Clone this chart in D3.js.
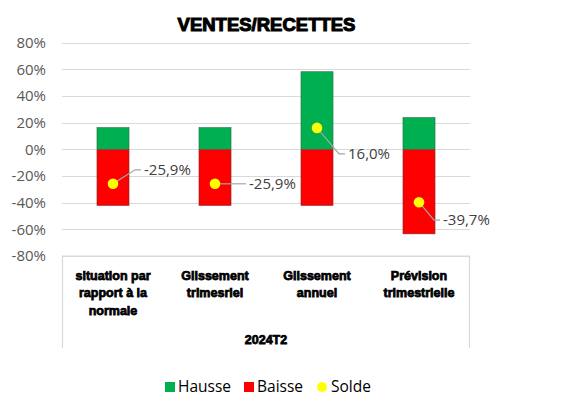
<!DOCTYPE html>
<html>
<head>
<meta charset="utf-8">
<script src="https://cdn.jsdelivr.net/npm/d3@7"></script>
<style>
  html, body { margin: 0; padding: 0; background: #fff; }
  svg { display: block; }
</style>
</head>
<body>
<svg id="chart" width="569" height="412"></svg>
<script>
// Chart data
const categories = [
  ["situation par", "rapport à la", "normale"],
  ["Glissement", "trimesriel"],
  ["Glissement", "annuel"],
  ["Prévision", "trimestrielle"]
];
const periodLabel = "2024T2";
const hausse = [16.2, 16.2, 58.1, 23.7];
const baisse = [-42.1, -42.1, -42.1, -63.4];
const solde = [-25.9, -25.9, 16.0, -39.7];
const yTicks = [80, 60, 40, 20, 0, -20, -40, -60, -80];
const legendItems = ["Hausse", "Baisse", "Solde"];

// Leader-line callout offsets for the solde labels (elbow dx, dy in px)
const labelOffsets = [[22, -14], [25, 0], [22, 26], [15, 18]];

const svg = d3.select("#chart");
const W = 569, H = 412;
const m = { left: 62, right: 99, top: 42.5, bottom: 156 };
const plotW = W - m.left - m.right;

const y = d3.scaleLinear().domain([-80, 80]).range([256, 42.5]);
const x = d3.scaleBand().domain(d3.range(categories.length))
  .range([m.left, m.left + plotW]).paddingInner(0.686).paddingOuter(0.343);

// French decimal comma, plain hyphen for negatives
const fmt = v => d3.format(".1f")(v).replace("−", "-").replace(".", ",") + "%";
const colors = { hausse: "#00B050", baisse: "#FF0000", solde: "#FFFF00" };
const heavyFont = "Liberation Sans, Arial, sans-serif";

// Title
svg.append("text")
  .attr("x", 266.5).attr("y", 31)
  .attr("text-anchor", "middle")
  .attr("font-family", heavyFont)
  .attr("font-weight", "bold").attr("font-size", 18.5)
  .attr("stroke", "#000").attr("stroke-width", 1.1)
  .text("VENTES/RECETTES");

// Gridlines
svg.append("g").selectAll("line").data(yTicks).join("line")
  .attr("x1", m.left).attr("x2", m.left + plotW)
  .attr("y1", d => Math.round(y(d)) + 0.5).attr("y2", d => Math.round(y(d)) + 0.5)
  .attr("stroke", "#D9D9D9").attr("stroke-width", 1);

// Y axis labels
const yAxis = d3.axisLeft(y).tickValues(yTicks).tickSize(0).tickPadding(0)
  .tickFormat(d => d + "%");
const yg = svg.append("g").attr("transform", `translate(${m.left - 16},0)`).call(yAxis);
yg.select(".domain").remove();
yg.selectAll("text")
  .attr("font-family", "Open Sans, sans-serif").attr("font-size", 15)
  .attr("fill", "#595959");

// Category label box
const boxBottom = 348;
svg.append("path")
  .attr("d", `M${m.left + 0.5},${boxBottom} V${y(-80)} H${m.left + plotW - 0.5} V${boxBottom}`)
  .attr("fill", "none").attr("stroke", "#D9D9D9").attr("stroke-width", 1.2);

const catG = svg.append("g");
categories.forEach((lines, i) => {
  const cx = x(i) + x.bandwidth() / 2;
  const t = catG.append("text")
    .attr("text-anchor", "middle")
    .attr("font-family", heavyFont)
    .attr("font-weight", "bold").attr("font-size", 12.5)
    .attr("stroke", "#000").attr("stroke-width", 0.75);
  lines.forEach((ln, j) => {
    t.append("tspan").attr("x", cx).attr("y", 280 + j * 17.3).text(ln);
  });
});
svg.append("text")
  .attr("x", m.left + plotW / 2).attr("y", 343.5)
  .attr("text-anchor", "middle")
  .attr("font-family", heavyFont)
  .attr("font-weight", "bold").attr("font-size", 12.5)
  .attr("stroke", "#000").attr("stroke-width", 0.75)
  .text(periodLabel);

// Bars
const barG = svg.append("g");
barG.selectAll("rect.h").data(hausse).join("rect").attr("class", "h")
  .attr("x", (d, i) => x(i)).attr("width", x.bandwidth())
  .attr("y", d => y(d)).attr("height", d => y(0) - y(d))
  .attr("fill", colors.hausse).attr("stroke", "#2E6B3F").attr("stroke-width", 0.6);
barG.selectAll("rect.b").data(baisse).join("rect").attr("class", "b")
  .attr("x", (d, i) => x(i)).attr("width", x.bandwidth())
  .attr("y", y(0) + 0.5).attr("height", d => y(d) - y(0) - 0.5)
  .attr("fill", colors.baisse).attr("stroke", "#7A2A2A").attr("stroke-width", 0.6);

// Solde leader lines, markers and labels
const sG = svg.append("g");
solde.forEach((v, i) => {
  const cx = x(i) + x.bandwidth() / 2, cy = y(v);
  const [dx, dy] = labelOffsets[i];
  const ex = cx + dx, ey = cy + dy;
  sG.append("path")
    .attr("d", `M${cx},${cy} L${ex},${ey} H${ex + 6}`)
    .attr("fill", "none").attr("stroke", "#A6A6A6").attr("stroke-width", 1.2);
  sG.append("circle").attr("cx", cx).attr("cy", cy).attr("r", 5.3)
    .attr("fill", colors.solde);
  sG.append("text")
    .attr("x", ex + 9).attr("y", ey).attr("dy", "0.35em")
    .attr("font-family", "Open Sans, sans-serif").attr("font-size", 15)
    .attr("fill", "#404040")
    .text(fmt(v));
});

// Legend
const legX = [165, 244, 322];
const lg = svg.append("g");
legendItems.forEach((name, i) => {
  if (i < 2) {
    lg.append("rect").attr("x", legX[i]).attr("y", 382).attr("width", 10).attr("height", 10)
      .attr("fill", i === 0 ? colors.hausse : colors.baisse);
  } else {
    lg.append("circle").attr("cx", legX[i]).attr("cy", 387).attr("r", 5).attr("fill", colors.solde);
  }
  lg.append("text")
    .attr("x", i < 2 ? legX[i] + 13 : legX[i] + 9).attr("y", 387).attr("dy", "0.35em")
    .attr("font-family", "Open Sans, sans-serif").attr("font-size", 15.5)
    .attr("fill", "#000")
    .text(name);
});
</script>
</body>
</html>
